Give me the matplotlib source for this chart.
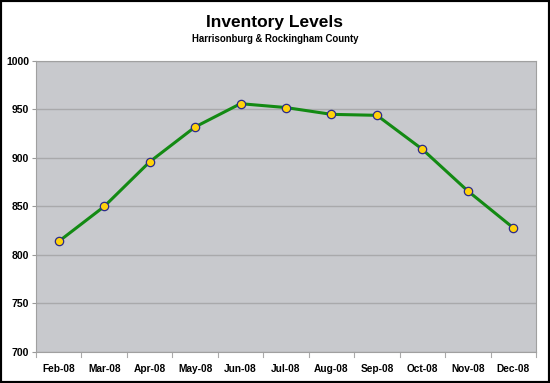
import matplotlib.pyplot as plt
from matplotlib.patches import Rectangle

months = ['Feb-08', 'Mar-08', 'Apr-08', 'May-08', 'Jun-08', 'Jul-08',
          'Aug-08', 'Sep-08', 'Oct-08', 'Nov-08', 'Dec-08']
inventory = [814, 850, 896, 932, 956, 952, 945, 944, 909, 866, 828]
yTicks = [700, 750, 800, 850, 900, 950, 1000]

fig = plt.figure(figsize=(5.5, 3.83), dpi=100, facecolor='white')
ax = fig.add_axes([36/550, 1-352/383, 500/550, 291/383])
ax.set_facecolor('#c8c9cd')

xs = list(range(len(months)))
ax.plot(xs, inventory, color='#138a13', linewidth=2.2, zorder=3,
        marker='o', markersize=6, markerfacecolor='#ffd20a',
        markeredgecolor='#2a2a8a', markeredgewidth=0.9)

ax.set_xlim(-0.5, len(months) - 0.5)
ax.set_ylim(yTicks[0], yTicks[-1])
ax.set_yticks(yTicks)
ax.set_yticklabels(yTicks, fontsize=7.5, fontweight='bold', family='Liberation Sans')
ax.set_xticks(xs)
ax.set_xticklabels(months, fontsize=7.3, fontweight='bold', family='Liberation Sans')
ax.tick_params(axis='x', length=0, pad=9)
ax.tick_params(axis='y', length=3, color='#999999', pad=2)
for b in [i - 0.5 for i in range(len(months) + 1)]:
    ax.plot([b, b], [700, 700 - 5], color='#aaaaaa', linewidth=0.8,
            clip_on=False, transform=ax.transData)
ax.yaxis.grid(True, color='#a9a9ab', linewidth=1.0)
ax.set_axisbelow(True)
for s in ax.spines.values():
    s.set_color('#a0a0a0')

fig.text(0.5, 1-22/383, 'Inventory Levels', ha='center', va='center',
         fontsize=12.5, fontweight='bold', family='Liberation Sans')
fig.text(0.5, 1-39/383, 'Harrisonburg & Rockingham County', ha='center',
         va='center', fontsize=6.9, fontweight='bold', family='Liberation Sans')

fig.patches.append(Rectangle((0, 0), 1, 1, transform=fig.transFigure,
                             fill=False, edgecolor='black', linewidth=3))
fig.savefig('out.png', dpi=100)
